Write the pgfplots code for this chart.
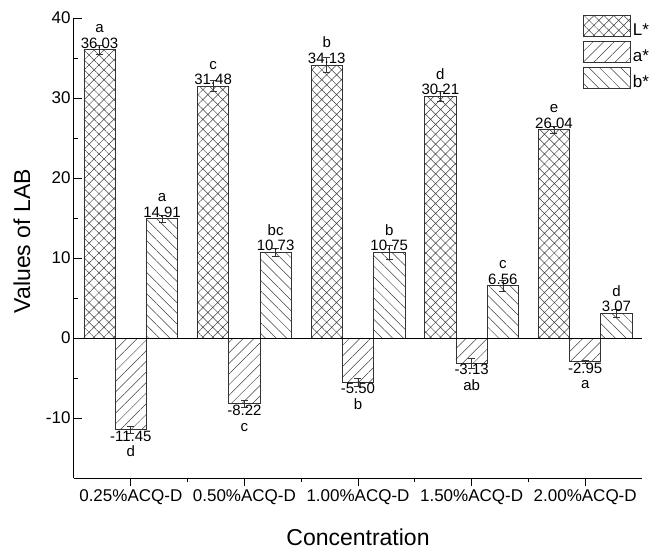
\documentclass[border=0pt]{standalone}
\usepackage{fontspec}
\setmainfont{Liberation Sans}
\usepackage{pgfplots}
\pgfplotsset{compat=1.18}
\usepackage{pgfplotstable}
\usetikzlibrary{patterns.meta}

% L*, a*, b* per concentration: mean, error, label (letter + value)
\pgfplotstableread{
x y e lab
1 36.03 0.6 {a\\36.03}
2 31.48 0.7 {c\\31.48}
3 34.13 0.9 {b\\34.13}
4 30.21 0.6 {d\\30.21}
5 26.04 0.4 {e\\26.04}
}\dataL
\pgfplotstableread{
x y e lab
1 -11.45 0.4 {-11.45\\d}
2 -8.22 0.4 {-8.22\\c}
3 -5.50 0.5 {-5.50\\b}
4 -3.13 0.6 {-3.13\\ab}
5 -2.95 0.2 {-2.95\\a}
}\dataA
\pgfplotstableread{
x y e lab
1 14.91 0.4 {a\\14.91}
2 10.73 0.5 {bc\\10.73}
3 10.75 0.9 {b\\10.75}
4 6.56 0.7 {c\\6.56}
5 3.07 0.5 {d\\3.07}
}\dataB

\begin{document}
\begin{tikzpicture}
\useasboundingbox (-74pt,-72pt) rectangle (577pt,478pt);
\begin{axis}[
  scale only axis,
  width=568pt, height=460pt,
  xmin=0.5, xmax=5.5,
  ymin=-17.5, ymax=40,
  ybar,
  axis lines*=left,
  axis line style={line width=1pt},
  every tick/.style={black, line width=0.8pt},
  major tick length=8pt, minor tick length=4pt,
  xtick={1,2,3,4,5},
  xticklabels={0.25\%ACQ-D,0.50\%ACQ-D,1.00\%ACQ-D,1.50\%ACQ-D,2.00\%ACQ-D},
  minor x tick num=1,
  ytick={-10,0,...,40},
  minor y tick num=1,
  /pgf/number format/assume math mode=true,
  tick label style={font=\fontsize{17}{19}\selectfont},
  every axis y label/.style={at={(rel axis cs:0,0.515)}, xshift=-52pt, rotate=90, anchor=center},
  every axis x label/.style={at={(rel axis cs:0.5,0)}, yshift=-59pt, anchor=center},
  label style={font=\fontsize{23}{25}\selectfont},
  xlabel={Concentration},
  ylabel={Values of LAB},
  clip=false,
  bar width=0.275,
  point meta=explicit symbolic,
  nodes near coords,
  every node near coord/.append style={align=center, font=\fontsize{15}{15.5}\selectfont, inner sep=1pt, text=black},
  legend image code/.code={\draw[#1,/tikz/.cd] (0pt,-6pt) rectangle (47pt,15pt);},
  legend style={draw=none, fill=none, at={(0.896,1.0065)}, anchor=north west,
    font=\fontsize{17}{17}\selectfont, row sep=2pt, inner sep=0pt,
    /tikz/every even column/.append style={column sep=2pt}},
  legend cell align=left,
]
\addplot[bar shift=-0.275, draw=black!80, line width=0.7pt,
  pattern={Hatch[angle=45,distance=7pt,line width=0.5pt]}, pattern color=black!75,
  error bars/.cd, y dir=both, y explicit,
  error bar style={black!80, line width=0.6pt},
  error mark options={rotate=90, mark size=3.5pt, black!80, line width=0.6pt}]
  table[x=x, y=y, y error=e, meta=lab]{\dataL};
\addlegendentry{L*}
\addplot[bar shift=0, draw=black!80, line width=0.7pt,
  pattern={Lines[angle=45,distance=7.5pt,line width=0.5pt]}, pattern color=black!75,
  every node near coord/.append style={anchor=north},
  error bars/.cd, y dir=both, y explicit,
  error bar style={black!80, line width=0.6pt},
  error mark options={rotate=90, mark size=3.5pt, black!80, line width=0.6pt}]
  table[x=x, y=y, y error=e, meta=lab]{\dataA};
\addlegendentry{a*}
\addplot[bar shift=0.275, draw=black!80, line width=0.7pt,
  pattern={Lines[angle=-45,distance=7.5pt,line width=0.5pt]}, pattern color=black!75,
  error bars/.cd, y dir=both, y explicit,
  error bar style={black!80, line width=0.6pt},
  error mark options={rotate=90, mark size=3.5pt, black!80, line width=0.6pt}]
  table[x=x, y=y, y error=e, meta=lab]{\dataB};
\addlegendentry{b*}
\draw[black, line width=1pt] (axis cs:0.5,0) -- (axis cs:5.5,0);
\end{axis}
\end{tikzpicture}
\end{document}
